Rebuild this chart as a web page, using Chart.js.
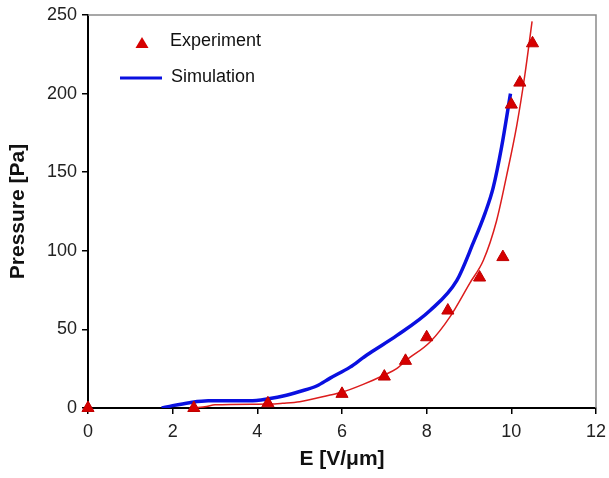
<!DOCTYPE html>
<html>
<head>
<meta charset="utf-8">
<script src="https://cdn.jsdelivr.net/npm/chart.js@4"></script>
<style>
  html, body { margin: 0; padding: 0; background: #fff; }
  #wrap { width: 609px; height: 478px; position: relative; }
</style>
</head>
<body>
<div id="wrap"><canvas id="chart"></canvas></div>
<script>
// Experiment points (E in V/um, pressure in Pa)
const expE = [0, 2.5, 4.25, 6, 7, 7.5, 8, 8.5, 9.25, 9.8, 10, 10.2, 10.5];
const expP = [0, 0, 3, 9, 20, 30, 45, 62, 83, 96, 193, 207, 232];

// thin red fit through the experiment
const fitE = [2.5, 2.8, 3.0, 4.3, 4.6, 5.0, 5.72, 6.0, 6.5, 7.0, 7.29, 7.5, 8.08, 8.55, 9.02, 9.34, 9.65, 9.89, 10.13, 10.32, 10.49];
const fitP = [0, 1, 2, 2.5, 3, 4, 8.3, 10, 15, 21, 25, 30, 42, 58, 79.5, 94, 119, 148, 180, 212, 246];

// simulation curve
const simE = [1.74, 2.0, 2.4, 2.84, 3.5, 3.98, 4.3, 4.61, 5.0, 5.4, 5.72, 6.19, 6.5, 6.66, 7.29, 8.08, 8.71, 9.1, 9.38, 9.57, 9.77, 9.98];
const simP = [0, 1.5, 3.4, 4.6, 4.6, 4.8, 6, 7.6, 10.5, 14, 19, 26, 32, 35, 46, 62, 81, 105, 124, 140, 166, 200];

const xTicks = [0, 2, 4, 6, 8, 10, 12];
const yTicks = [0, 50, 100, 150, 200, 250];

const RED = '#d60000';
const BLUE = '#0a10e0';
const FONT = '"Liberation Sans", Arial, Helvetica, sans-serif';

const pts = (xs, ys) => xs.map((x, i) => ({ x: x, y: ys[i] }));

// gray top/right frame + the legend inside the plot
const framePlugin = {
  id: 'frame',
  beforeDatasetsDraw(chart) {
    const { ctx, chartArea: a } = chart;
    ctx.save();
    ctx.strokeStyle = '#8a8a8a';
    ctx.lineWidth = 1.5;
    ctx.beginPath();
    ctx.moveTo(a.left, a.top);
    ctx.lineTo(a.right, a.top);
    ctx.lineTo(a.right, a.bottom);
    ctx.stroke();
    ctx.restore();
  },
  afterDraw(chart) {
    const { ctx, chartArea: a } = chart;
    ctx.save();
    ctx.font = '18px ' + FONT;
    ctx.textBaseline = 'middle';
    // Experiment marker
    const tx = a.left + 54, ty = a.top + 28;
    ctx.fillStyle = RED;
    ctx.beginPath();
    ctx.moveTo(tx, ty - 6);
    ctx.lineTo(tx + 6.5, ty + 5);
    ctx.lineTo(tx - 6.5, ty + 5);
    ctx.closePath();
    ctx.fill();
    ctx.fillStyle = '#111';
    ctx.fillText('Experiment', a.left + 82, a.top + 26);
    // Simulation line
    ctx.strokeStyle = BLUE;
    ctx.lineWidth = 3;
    ctx.beginPath();
    ctx.moveTo(a.left + 32, a.top + 63);
    ctx.lineTo(a.left + 74, a.top + 63);
    ctx.stroke();
    ctx.fillText('Simulation', a.left + 83, a.top + 62);
    ctx.restore();
  }
};

new Chart(document.getElementById('chart'), {
  type: 'scatter',
  data: {
    datasets: [
      {
        label: 'Experiment',
        data: pts(expE, expP),
        showLine: false,
        pointStyle: 'triangle',
        pointRadius: 7,
        backgroundColor: RED,
        borderColor: '#c00000',
        borderWidth: 1,
        clip: false
      },
      {
        label: 'Fit',
        data: pts(fitE, fitP),
        showLine: true,
        pointRadius: 0,
        borderColor: '#dc1c1c',
        borderWidth: 1.5,
        cubicInterpolationMode: 'monotone'
      },
      {
        label: 'Simulation',
        data: pts(simE, simP),
        showLine: true,
        pointRadius: 0,
        borderColor: BLUE,
        borderWidth: 3.5,
        cubicInterpolationMode: 'monotone'
      }
    ]
  },
  options: {
    responsive: true,
    maintainAspectRatio: false,
    animation: false,
    layout: { padding: { top: 15, right: 13, bottom: 0, left: 0 } },
    plugins: {
      legend: { display: false },
      tooltip: { enabled: false }
    },
    scales: {
      x: {
        type: 'linear',
        min: 0,
        max: 12,
        afterBuildTicks: (s) => { s.ticks = xTicks.map(v => ({ value: v })); },
        afterFit: (s) => { s.height = 70; s.paddingLeft = 0; s.paddingRight = 0; },
        ticks: { font: { family: FONT, size: 18 }, color: '#222', padding: 7 },
        grid: { drawOnChartArea: false, drawTicks: true, tickLength: 6, color: '#000', lineWidth: 1.5 },
        border: { display: true, color: '#000', width: 2 },
        title: {
          display: true,
          text: 'E [V/μm]',
          color: '#111',
          font: { family: FONT, size: 21, weight: 'bold' },
          padding: { top: 0, bottom: 6 }
        }
      },
      y: {
        type: 'linear',
        min: 0,
        max: 250,
        afterBuildTicks: (s) => { s.ticks = yTicks.map(v => ({ value: v })); },
        afterFit: (s) => { s.width = 88; s.paddingTop = 0; s.paddingBottom = 0; },
        ticks: { font: { family: FONT, size: 18 }, color: '#222', padding: 5 },
        grid: { drawOnChartArea: false, drawTicks: true, tickLength: 6, color: '#000', lineWidth: 1.5 },
        border: { display: true, color: '#000', width: 2 },
        title: {
          display: true,
          text: 'Pressure [Pa]',
          color: '#111',
          font: { family: FONT, size: 21, weight: 'bold' },
          padding: { top: 6, bottom: 0 }
        }
      }
    }
  },
  plugins: [framePlugin]
});
</script>
</body>
</html>
